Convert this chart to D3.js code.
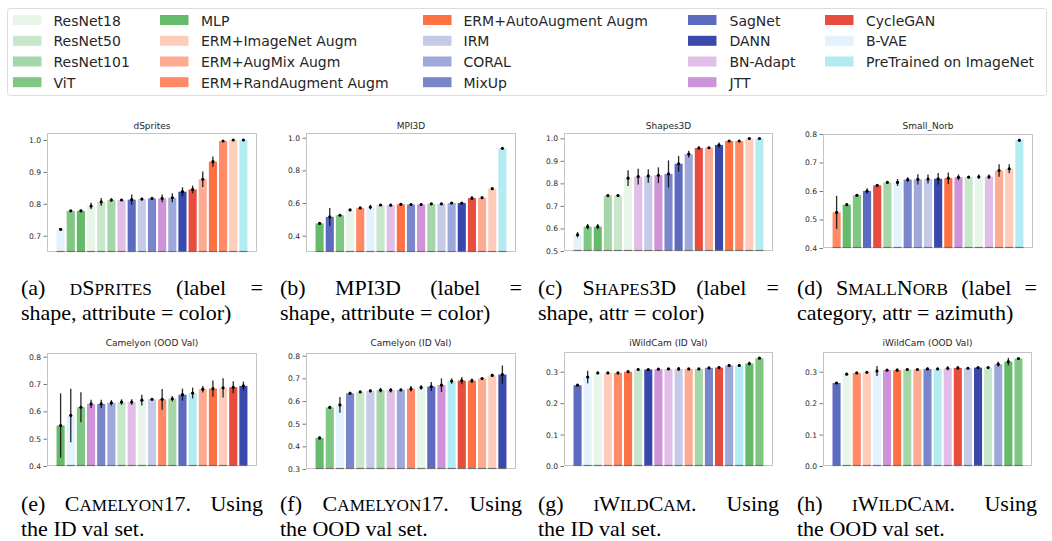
<!DOCTYPE html>
<html><head><meta charset="utf-8">
<script src="https://cdn.jsdelivr.net/npm/d3@7"></script>
<style>body{margin:0;background:#fff} svg{display:block}</style>
</head><body>
<svg id="c" width="1052" height="541"></svg>
<script>
// ---------- methods (legend order) ----------
const methodKeys = ['R18','R50','R101','ViT','MLP','ImNet','AugMix','RandAug','AutoAug','IRM','CORAL','MixUp','SagNet','DANN','BNAdapt','JTT','CycleGAN','BVAE','PreTrained'];
const methodLabels = ['ResNet18','ResNet50','ResNet101','ViT','MLP','ERM+ImageNet Augm','ERM+AugMix Augm','ERM+RandAugment Augm','ERM+AutoAugment Augm','IRM','CORAL','MixUp','SagNet','DANN','BN-Adapt','JTT','CycleGAN','B-VAE','PreTrained on ImageNet'];
const methodColors = ['#e8f5e9','#c8e6c9','#a5d6a7','#81c784','#66bb6a','#ffccbc','#ffab91','#ff8a65','#ff7043','#c5cae9','#9fa8da','#7986cb','#5c6bc0','#3949ab','#e1bee7','#ce93d8','#e74c3c','#e3f2fd','#b2ebf2'];

// ---------- panel data ----------
const dspritesOrder = ['BVAE','ViT','MLP','R18','R50','R101','BNAdapt','SagNet','IRM','MixUp','JTT','CORAL','DANN','CycleGAN','AugMix','AutoAug','RandAug','ImNet','PreTrained'];
const dspritesVal = [0.720,0.778,0.778,0.793,0.806,0.812,0.812,0.813,0.815,0.817,0.817,0.819,0.838,0.845,0.877,0.932,0.997,1.000,1.000];
const dspritesErr = [0.004,0.003,0.004,0.010,0.012,0.006,0.003,0.016,0.004,0.003,0.012,0.014,0.014,0.012,0.024,0.016,0.003,0.002,0.002];
const dspritesTicks = [0.7,0.8,0.9,1.0];

const mpi3dOrder = ['MLP','SagNet','ViT','R18','RandAug','BVAE','R50','BNAdapt','AutoAug','MixUp','JTT','R101','IRM','CORAL','DANN','CycleGAN','AugMix','ImNet','PreTrained'];
const mpi3dVal = [0.475,0.515,0.525,0.558,0.570,0.575,0.588,0.587,0.592,0.591,0.591,0.595,0.595,0.600,0.600,0.630,0.633,0.688,0.935];
const mpi3dErr = [0.004,0.055,0.003,0.004,0.004,0.014,0.006,0.004,0.005,0.004,0.007,0.003,0.003,0.003,0.003,0.012,0.003,0.003,0.003];
const mpi3dTicks = [0.4,0.6,0.8,1.0];

const shapes3dOrder = ['BVAE','ViT','MLP','R101','R50','R18','BNAdapt','IRM','JTT','MixUp','SagNet','CORAL','CycleGAN','AugMix','DANN','AutoAug','RandAug','ImNet','PreTrained'];
const shapes3dVal = [0.572,0.608,0.608,0.746,0.746,0.823,0.830,0.833,0.836,0.842,0.887,0.930,0.957,0.958,0.970,0.988,0.988,0.999,0.999];
const shapes3dErr = [0.012,0.012,0.012,0.005,0.005,0.035,0.035,0.030,0.035,0.060,0.035,0.015,0.008,0.004,0.011,0.003,0.003,0.002,0.002];
const shapes3dTicks = [0.5,0.6,0.7,0.8,0.9,1.0];

const norbOrder = ['RandAug','MLP','ViT','SagNet','CycleGAN','R101','BVAE','MixUp','CORAL','IRM','DANN','AutoAug','JTT','R50','R18','BNAdapt','AugMix','ImNet','PreTrained'];
const norbVal = [0.525,0.552,0.585,0.600,0.620,0.630,0.630,0.640,0.641,0.642,0.643,0.645,0.648,0.649,0.650,0.650,0.672,0.678,0.778];
const norbErr = [0.058,0.004,0.004,0.010,0.004,0.002,0.012,0.008,0.018,0.016,0.020,0.020,0.010,0.004,0.008,0.008,0.022,0.016,0.005];
const norbTicks = [0.4,0.5,0.6,0.7,0.8];

const camOodOrder = ['MLP','BVAE','ViT','JTT','MixUp','CORAL','R50','BNAdapt','R18','IRM','RandAug','R101','SagNet','PreTrained','AugMix','AutoAug','ImNet','CycleGAN','DANN'];
const camOodVal = [0.548,0.585,0.615,0.627,0.627,0.631,0.634,0.634,0.641,0.644,0.644,0.646,0.661,0.667,0.681,0.683,0.686,0.688,0.693];
const camOodErr = [0.118,0.098,0.055,0.015,0.015,0.010,0.010,0.010,0.020,0.003,0.038,0.010,0.022,0.020,0.012,0.030,0.035,0.022,0.016];
const camOodTicks = [0.4,0.5,0.6,0.7,0.8];

const camIdOrder = ['MLP','ViT','BVAE','MixUp','R50','IRM','R101','BNAdapt','CORAL','RandAug','R18','SagNet','JTT','PreTrained','CycleGAN','AutoAug','AugMix','ImNet','DANN'];
const camIdVal = [0.437,0.572,0.583,0.634,0.640,0.645,0.648,0.648,0.649,0.654,0.660,0.664,0.670,0.688,0.690,0.690,0.699,0.713,0.717];
const camIdErr = [0.007,0.005,0.035,0.007,0.004,0.007,0.010,0.010,0.005,0.012,0.010,0.020,0.030,0.012,0.016,0.010,0.004,0.007,0.040];
const camIdTicks = [0.3,0.4,0.5,0.6,0.7,0.8];

const wildIdOrder = ['SagNet','BVAE','R18','ImNet','RandAug','AutoAug','R50','DANN','JTT','BNAdapt','IRM','AugMix','R101','MixUp','CycleGAN','CORAL','PreTrained','MLP','ViT'];
const wildIdVal = [0.257,0.283,0.296,0.296,0.296,0.300,0.307,0.307,0.308,0.309,0.309,0.309,0.309,0.312,0.313,0.320,0.320,0.326,0.343];
const wildIdErr = [0.002,0.020,0.002,0.002,0.002,0.004,0.005,0.002,0.002,0.002,0.006,0.002,0.002,0.002,0.005,0.004,0.002,0.006,0.002];
const wildTicks = [0.0,0.1,0.2,0.3];

const wildOodOrder = ['SagNet','R18','RandAug','ImNet','BVAE','JTT','AutoAug','R101','AugMix','MixUp','PreTrained','BNAdapt','CycleGAN','IRM','DANN','R50','CORAL','MLP','ViT'];
const wildOodVal = [0.264,0.292,0.296,0.298,0.302,0.305,0.305,0.307,0.307,0.309,0.309,0.311,0.312,0.311,0.313,0.313,0.324,0.332,0.342];
const wildOodErr = [0.002,0.003,0.002,0.002,0.016,0.002,0.005,0.005,0.002,0.004,0.002,0.006,0.005,0.002,0.002,0.002,0.008,0.012,0.002];

const panelTitles = ['dSprites','MPI3D','Shapes3D','Small_Norb','Camelyon (OOD Val)','Camelyon (ID Val)','iWildCam (ID Val)','iWildCam (OOD Val)'];

// ---------- layout ----------
const panels = [
  {title:panelTitles[0], order:dspritesOrder, val:dspritesVal, err:dspritesErr, ticks:dspritesTicks, domain:[0.649,1.022], l:47, r:257, t:133, b:252, ty:129},
  {title:panelTitles[1], order:mpi3dOrder, val:mpi3dVal, err:mpi3dErr, ticks:mpi3dTicks, domain:[0.300,1.029], l:306, r:516, t:133, b:252, ty:129},
  {title:panelTitles[2], order:shapes3dOrder, val:shapes3dVal, err:shapes3dErr, ticks:shapes3dTicks, domain:[0.5,1.0235], l:564, r:773, t:133, b:251, ty:129},
  {title:panelTitles[3], order:norbOrder, val:norbVal, err:norbErr, ticks:norbTicks, domain:[0.4,0.8], l:823, r:1033, t:134, b:248, ty:129},
  {title:panelTitles[4], order:camOodOrder, val:camOodVal, err:camOodErr, ticks:camOodTicks, domain:[0.4,0.8135], l:47, r:257, t:353, b:466, ty:346},
  {title:panelTitles[5], order:camIdOrder, val:camIdVal, err:camIdErr, ticks:camIdTicks, domain:[0.3,0.812], l:306, r:516, t:353, b:469, ty:346},
  {title:panelTitles[6], order:wildIdOrder, val:wildIdVal, err:wildIdErr, ticks:wildTicks, domain:[0,0.3627], l:564, r:773, t:352, b:466, ty:346},
  {title:panelTitles[7], order:wildOodOrder, val:wildOodVal, err:wildOodErr, ticks:wildTicks, domain:[0,0.3627], l:823, r:1032, t:352, b:466, ty:346}
];

const svg = d3.select('#c');
const colorOf = k => methodColors[methodKeys.indexOf(k)];
const SANS = 'DejaVu Sans, sans-serif';
const SERIF = 'Liberation Serif, Times New Roman, serif';

// ---------- legend ----------
svg.append('rect').attr('x',7.5).attr('y',8.5).attr('width',1039).attr('height',87).attr('rx',3)
  .attr('fill','#fff').attr('stroke','#dcdcdc').attr('stroke-width',1);
const colSwatchX = [13,160,423,688,825];
const colTextX = [53.5,201,463.5,729.5,866];
const rowBase = [25.5,46.3,67,87.7];
const legendCols = [[0,1,2,3],[4,5,6,7],[8,9,10,11],[12,13,14,15],[16,17,18]];
legendCols.forEach((col,ci)=>{
  const lg = svg.append('g');
  lg.selectAll('rect').data(col).join('rect')
    .attr('x',colSwatchX[ci]).attr('y',(d,ri)=>rowBase[ri]-10.5).attr('width',28.5).attr('height',10)
    .attr('fill',d=>methodColors[d]);
  lg.selectAll('text').data(col).join('text')
    .attr('x',colTextX[ci]).attr('y',(d,ri)=>rowBase[ri])
    .attr('font-family',SANS).attr('font-size',14).attr('fill','#262626')
    .text(d=>methodLabels[d]);
});

// ---------- panels ----------
panels.forEach(p=>{
  const g = svg.append('g');
  const x = d3.scaleBand().domain(d3.range(p.order.length)).range([p.l,p.r]).paddingInner(0.2).paddingOuter(0.94);
  const y = d3.scaleLinear().domain(p.domain).range([p.b,p.t]);
  const bw = x.bandwidth();
  g.selectAll('rect.bar').data(p.val).join('rect').attr('class','bar')
    .attr('x',(d,i)=>x(i)).attr('width',bw)
    .attr('y',d=>y(d)).attr('height',d=>p.b-y(d))
    .attr('fill',(d,i)=>colorOf(p.order[i]));
  // frame
  g.append('rect').attr('x',p.l+0.5).attr('y',p.t+0.5).attr('width',p.r-p.l-1).attr('height',p.b-p.t-1)
    .attr('fill','none').attr('stroke','#c4c4c4').attr('stroke-width',1);
  // darker base under bars
  g.selectAll('line.base').data(p.val).join('line').attr('class','base')
    .attr('x1',(d,i)=>x(i)).attr('x2',(d,i)=>x(i)+bw)
    .attr('y1',p.b-0.5).attr('y2',p.b-0.5)
    .attr('stroke','#6e6e6e').attr('stroke-width',1.2);
  // axis
  const ax = g.append('g').attr('transform',`translate(${p.l},0)`)
    .call(d3.axisLeft(y).tickValues(p.ticks).tickFormat(d3.format('.1f')).tickSize(3.5).tickPadding(2.5));
  ax.select('.domain').remove();
  ax.selectAll('line').attr('stroke','#555').attr('stroke-width',0.8);
  ax.selectAll('text').attr('font-family',SANS).attr('font-size',7.6).attr('fill','#2a2a2a');
  // error bars
  g.selectAll('line.err').data(p.val).join('line').attr('class','err')
    .attr('x1',(d,i)=>x(i)+bw/2).attr('x2',(d,i)=>x(i)+bw/2)
    .attr('y1',(d,i)=>y(d-p.err[i])).attr('y2',(d,i)=>y(Math.min(d+p.err[i], p.domain[1]+0.2)))
    .attr('stroke','#111').attr('stroke-width',1.3).attr('stroke-opacity',0.9);
  g.selectAll('circle.pt').data(p.val).join('circle').attr('class','pt')
    .attr('cx',(d,i)=>x(i)+bw/2).attr('cy',d=>y(d)).attr('r',1.6).attr('fill','#000');
  // title
  g.append('text').attr('x',(p.l+p.r)/2).attr('y',p.ty).attr('text-anchor','middle')
    .attr('font-family',SANS).attr('font-size',9).attr('fill','#262626').text(p.title);
});

// ---------- captions ----------
const SC = 0.78;
const captions = [
  {x0:21, x1:263, y:295, line1:[[['(a)']],[['D',1],['S'],['PRITES',1]],[['(label']],[['=']]], line2:'shape, attribute = color)'},
  {x0:280, x1:522, y:295, line1:[[['(b)']],[['MPI3D']],[['(label']],[['=']]], line2:'shape, attribute = color)'},
  {x0:538, x1:779, y:295, line1:[[['(c)']],[['S'],['HAPES',1],['3D']],[['(label']],[['=']]], line2:'shape, attr = color)'},
  {x0:797, x1:1037, y:295, line1:[[['(d)']],[['S'],['MALL',1],['N'],['ORB',1]],[['(label']],[['=']]], line2:'category, attr = azimuth)'},
  {x0:21, x1:263, y:511, line1:[[['(e)']],[['C'],['AMELYON',1],['17.']],[['Using']]], line2:'the ID val set.'},
  {x0:280, x1:522, y:511, line1:[[['(f)']],[['C'],['AMELYON',1],['17.']],[['Using']]], line2:'the OOD val set.'},
  {x0:538, x1:779, y:511, line1:[[['(g)']],[['I',1],['W'],['ILD',1],['C'],['AM',1],['.']],[['Using']]], line2:'the ID val set.'},
  {x0:797, x1:1037, y:511, line1:[[['(h)']],[['I',1],['W'],['ILD',1],['C'],['AM',1],['.']],[['Using']]], line2:'the OOD val set.'}
];
const FS = 22, LINE = 24.5;
captions.forEach(c=>{
  const cg = svg.append('g').attr('font-family',SERIF).attr('font-size',FS).attr('fill','#000');
  const words = c.line1.map(w=>{
    const t = cg.append('text').attr('y',c.y);
    w.forEach(seg=>{ t.append('tspan').attr('font-size', seg[1] ? FS*SC : FS).text(seg[0]); });
    return t;
  });
  const widths = words.map(t=>t.node().getComputedTextLength());
  const total = d3.sum(widths);
  const gap = (c.x1 - c.x0 - total)/(words.length-1);
  let cx = c.x0;
  words.forEach((t,i)=>{ t.attr('x',cx); cx += widths[i] + gap; });
  cg.append('text').attr('x',c.x0).attr('y',c.y+LINE).text(c.line2);
});
</script>
</body></html>
